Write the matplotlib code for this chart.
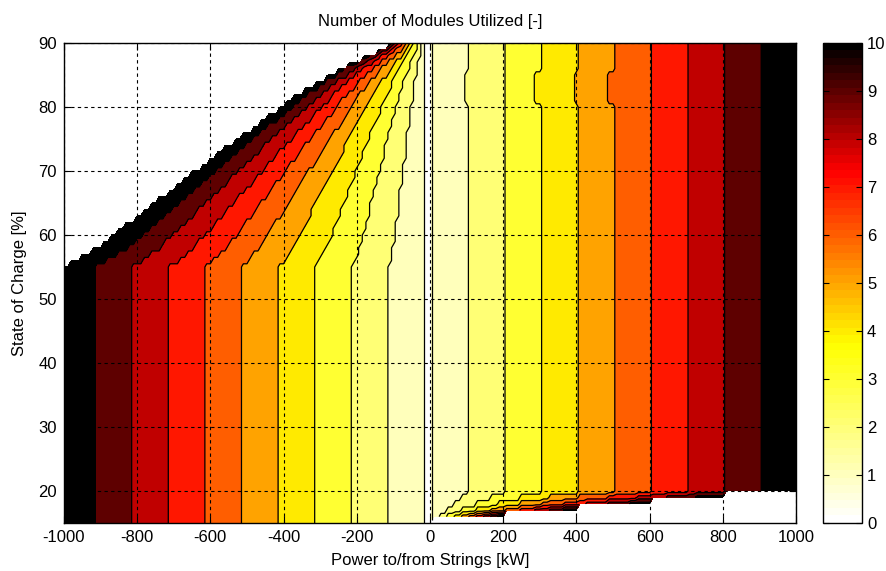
import numpy as np
import matplotlib.pyplot as plt
from matplotlib.colors import LinearSegmentedColormap, Normalize
from matplotlib.cm import ScalarMappable

plt.rcParams['font.family'] = ['Liberation Sans', 'DejaVu Sans']
plt.rcParams['axes.unicode_minus'] = False

# grid of the module count map
power_kw = np.arange(-1000, 1001, 10)
soc_pct = np.arange(15, 91, 1)

# charging power each module can take vs state of charge
charge_soc = [15, 55, 58, 66, 74, 82, 86.5, 89, 90]
charge_kw_per_module = [100, 100, 91, 73, 55, 36, 23, 13.5, 10]
charge_deadband_kw = 10

# discharging power each module can give vs state of charge
discharge_soc = [15, 16, 17, 18, 19, 20, 90]
discharge_kw_per_module = [0, 20, 40, 60, 80, 100, 100]

# some discharge switch points come in earlier between 80 and 85 %
notch_soc = (80.5, 85.5)
notch_kw = [0, 10, 0, 20, 10, 20, 0, 0, 0, 0, 0]

max_modules = 10
cbar_ticks = list(range(0, 11))

P, S = np.meshgrid(power_kw, soc_pct)
pc = np.interp(S, charge_soc, charge_kw_per_module)
pd_ = np.interp(S, discharge_soc, discharge_kw_per_module)
j = np.arange(max_modules + 1)
in_notch = (S > notch_soc[0]) & (S < notch_soc[1])

charge_edges = charge_deadband_kw + j * pc[..., None]
discharge_edges = j * pd_[..., None] - np.where(in_notch[..., None], notch_kw, 0)
edges = np.where(P[..., None] < 0, charge_edges, discharge_edges)
n = (edges < np.abs(P)[..., None]).sum(-1)
Z = np.where(n > max_modules, np.nan, n - 0.5)

cmap = LinearSegmentedColormap.from_list(
    'modules', [(0, (1, 1, 1)), (0.37, (1, 1, 0)), (0.735, (1, 0, 0)), (1, (0, 0, 0))])
levels = np.arange(0, max_modules + 1)
fills = [cmap((k + 1) / max_modules) for k in range(max_modules)]

fig = plt.figure(figsize=(8.86, 5.71), dpi=100)
ax = fig.add_axes([0.0722, 0.0841, 0.8262, 0.8406])

ax.contourf(P, S, Z, levels=levels, colors=fills)
ax.contour(P, S, Z, levels=levels, colors='k', linewidths=0.9)

ax.set_xlim(-1000, 1000)
ax.set_ylim(15, 90)
ax.set_xticks(np.arange(-1000, 1001, 200))
ax.set_yticks(np.arange(20, 91, 10))
ax.set_axisbelow(False)
ax.grid(True, color='k', linestyle=(0, (3, 3)), linewidth=0.8)
ax.tick_params(direction='in', top=True, right=True, labelsize=12, length=5, pad=5)
for sp in ax.spines.values():
    sp.set_linewidth(1.0)

ax.set_title('Number of Modules Utilized [-]', fontsize=12, pad=12)
ax.set_xlabel('Power to/from Strings [kW]', fontsize=12, labelpad=6)
ax.set_ylabel('State of Charge [%]', fontsize=12, labelpad=8)

cax = fig.add_axes([0.929, 0.0841, 0.044, 0.8406])
sm = ScalarMappable(norm=Normalize(0, 10), cmap=cmap.resampled(64))
cb = fig.colorbar(sm, cax=cax, ticks=cbar_ticks)
cb.outline.set_linewidth(1.0)
cax.tick_params(direction='in', left=True, right=True, labelsize=12, length=4)

fig.savefig('out.png', dpi=100)
